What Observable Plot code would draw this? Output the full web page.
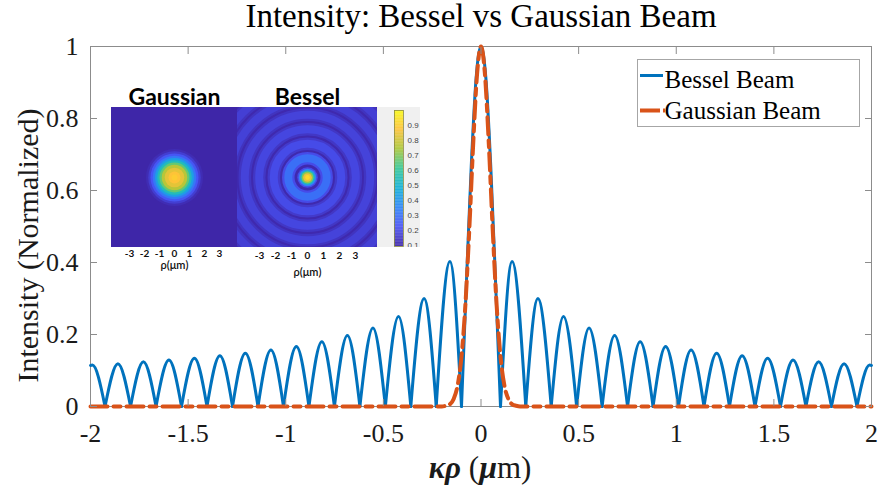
<!DOCTYPE html>
<html><head><meta charset="utf-8">
<script src="https://cdn.jsdelivr.net/npm/d3@7"></script>
<script src="https://cdn.jsdelivr.net/npm/@observablehq/plot@0.6"></script>
<style>
body{margin:0;background:#fff;}
#wrap{position:relative;width:878px;height:491px;overflow:hidden;font-family:"Liberation Serif","Times New Roman",serif;background:#fff;}
#wrap > *{position:absolute;}
</style></head><body><div id="wrap"></div>
<script>
// ---------- main chart data ----------
const xTicks = [-2, -1.5, -1, -0.5, 0, 0.5, 1, 1.5, 2];
const yTicks = [0, 0.2, 0.4, 0.6, 0.8, 1];
// Bessel beam: central lobe
const mainLobeX = [-0.0999, -0.075, -0.05, -0.025, 0, 0.025, 0.05, 0.075, 0.0999];
const mainLobeY = [0, 0.34, 0.667, 0.912, 1, 0.912, 0.667, 0.34, 0];
// Bessel beam side lobes (positive side, mirrored): zeros, peak positions, peak heights
const besselZeros = [0.0999, 0.2293, 0.3595, 0.4898, 0.6203, 0.7507, 0.8812, 1.0116, 1.1421, 1.2726, 1.4034, 1.5339, 1.6643, 1.7948, 1.9256];
const besselPeaks = [0.1592, 0.2915, 0.4225, 0.5534, 0.6843, 0.8151, 0.9456, 1.0760, 1.2069, 1.3374, 1.4678, 1.5983, 1.7291, 1.8596, 1.9900];
const besselPeakVals = [0.403, 0.300, 0.250, 0.218, 0.197, 0.180, 0.167, 0.157, 0.148, 0.141, 0.134, 0.129, 0.124, 0.119, 0.115];
const besselEdgeVal = 0.114; // value at |x| = 2
// Gaussian beam
const gaussX = [-2, -0.2, -0.18, -0.16, -0.14, -0.12, -0.1, -0.08, -0.06, -0.04, -0.02, 0, 0.02, 0.04, 0.06, 0.08, 0.1, 0.12, 0.14, 0.16, 0.18, 0.2, 2];
const gaussY = [0, 0, 0.002, 0.006, 0.021, 0.058, 0.138, 0.282, 0.491, 0.729, 0.924, 1, 0.924, 0.729, 0.491, 0.282, 0.138, 0.058, 0.021, 0.006, 0.002, 0, 0];

// ---------- inset data ----------
const insetTicks = [-3, -2, -1, 0, 1, 2, 3];
const spotCenter = [0, 0];
const colorStops = [0.09, 0.22, 0.35, 0.48, 0.61, 0.74, 0.87, 1.0];
const parula = ["#3e26a8", "#4852f4", "#2e87f7", "#11b1d6", "#37c897", "#abc739", "#fec338", "#f9fb14"];
const colorbarTicks = [0.1, 0.2, 0.3, 0.4, 0.5, 0.6, 0.7, 0.8, 0.9];
const gaussBg = 0.09;
const gaussRingR = [1.9, 1.75, 1.6, 1.45, 1.3, 1.15, 1.0, 0.85, 0.65, 0.4, 0.2];
const gaussRingV = [0.11, 0.16, 0.23, 0.31, 0.42, 0.54, 0.66, 0.76, 0.83, 0.87, 0.89];
const besselBg = 0.1;
const besselRingR = [1.2, 2.11, 3.02, 3.92, 4.83, 5.73];
const besselRingEdgeV = [0.2, 0.15, 0.14, 0.135, 0.13, 0.13];
const besselRingV = [0.29, 0.2, 0.185, 0.175, 0.17, 0.165];
const besselCoreR = [0.64, 0.55, 0.46, 0.37, 0.27, 0.15];
const besselCoreV = [0.2, 0.34, 0.52, 0.7, 0.84, 0.92];

// ---------- build tables ----------
const bessel = mainLobeX.map((x, i) => ({x, y: mainLobeY[i], lobe: "c"}));
for (const s of [-1, 1]) {
  besselPeaks.forEach((p, i) => {
    const last = i + 1 >= besselZeros.length;
    const pts = [
      {x: s * besselZeros[i], y: 0},
      {x: s * p, y: besselPeakVals[i]},
      {x: s * (last ? 2 : besselZeros[i + 1]), y: last ? besselEdgeVal : 0}
    ].sort((a, b) => a.x - b.x);
    pts.forEach(d => bessel.push({...d, lobe: s + ":" + i}));
  });
}
const gauss = gaussX.map((x, i) => ({x, y: gaussY[i]}));
const rings = (R, V) => R.map((r, i) => ({cx: spotCenter[0], cy: spotCenter[1], r, v: V[i]}));

const wrap = document.getElementById("wrap");
const serif = "Liberation Serif";
const gray = "#8c8c8c";
function place(el, left, top) { el.style.left = left + "px"; el.style.top = top + "px"; wrap.appendChild(el); }

const main = Plot.plot({
  width: 878, height: 491,
  marginLeft: 90, marginRight: 7, marginTop: 46, marginBottom: 85,
  x: {domain: [-2, 2]},
  y: {domain: [0, 1]},
  style: {fontFamily: serif, background: "white", color: "#1a1a1a"},
  marks: [
    Plot.frame({stroke: gray}),
    Plot.line(bessel, {x: "x", y: "y", z: "lobe", stroke: "#0072BD", strokeWidth: 3, curve: "monotone-x"}),
    Plot.line(gauss, {x: "x", y: "y", stroke: "#D95319", strokeWidth: 4, strokeDasharray: "17,6,7,6", curve: "monotone-x"}),
    Plot.axisX(xTicks, {anchor: "bottom", tickSize: -7, tickPadding: 24, tickFormat: d => String(d), label: null, stroke: gray, fill: "#1a1a1a", fontSize: 26}),
    Plot.axisX(xTicks, {anchor: "top", tickSize: -7, tickFormat: () => "", label: null, stroke: gray}),
    Plot.axisY(yTicks, {anchor: "left", tickSize: -7, tickPadding: 19, tickFormat: d => String(d), label: null, stroke: gray, fill: "#1a1a1a", fontSize: 26}),
    Plot.axisY(yTicks, {anchor: "right", tickSize: -7, tickFormat: () => "", label: null, stroke: gray}),
    Plot.text(["Intensity: Bessel vs Gaussian Beam"], {frameAnchor: "top", dy: -20, lineAnchor: "bottom", fontSize: 33, fill: "#000"}),
    Plot.text(["Intensity (Normalized)"], {frameAnchor: "left", textAnchor: "middle", rotate: -90, dx: -62, dy: 19, lineAnchor: "middle", fontSize: 30, fill: "#1a1a1a"})
  ]
});
place(main, 0, 0);

// x label with mixed styles
const xl = document.createElement("div");
xl.style.cssText = `width:200px;text-align:center;font-size:31px;line-height:31px;color:#1a1a1a;font-family:${serif};white-space:nowrap;`;
xl.innerHTML = `<span style="font-style:italic;font-weight:bold">κρ</span> (<span style="font-style:italic;font-weight:bold;font-size:32px">μ</span>m)`;
place(xl, 380, 452);

// legend
const leg = document.createElementNS("http://www.w3.org/2000/svg", "svg");
leg.setAttribute("width", 223); leg.setAttribute("height", 68);
leg.innerHTML = `<rect x="0.5" y="0.5" width="222" height="67" fill="white" stroke="#a6a6a6"/>
<line x1="3" x2="26" y1="16.5" y2="16.5" stroke="#0072BD" stroke-width="3"/>
<text x="27.5" y="29" font-size="25" font-family="${serif}" fill="#000">Bessel Beam</text>
<line x1="3" x2="28" y1="51.5" y2="51.5" stroke="#D95319" stroke-width="4" stroke-dasharray="20,3,2,100"/>
<text x="27.5" y="60" font-size="25" font-family="${serif}" fill="#000">Gaussian Beam</text>`;
place(leg, 637, 59);

// ---------- insets ----------
const colorScale = {type: "linear", domain: colorStops, range: parula, interpolate: "rgb"};
const sans = "Lato";

function imagePlot(w, h, half, pxPerUm, marks) {
  return Plot.plot({
    width: w, height: h, margin: 0,
    x: {domain: [-half, half]}, y: {domain: [-half * h / w, half * h / w]},
    r: {type: "linear", domain: [0, 1], range: [0, pxPerUm]},
    color: colorScale,
    style: {background: "transparent", overflow: "hidden"},
    marks
  });
}
function labelPlot(w, half, title, pad, dyLabel) {
  return Plot.plot({
    width: w, height: 202, marginLeft: 0, marginRight: 0, marginTop: 26, marginBottom: 36,
    x: {domain: [-half, half]},
    style: {background: "transparent", fontFamily: sans},
    marks: [
      Plot.axisX(insetTicks, {anchor: "bottom", tickSize: 0, tickPadding: pad, tickFormat: d => String(d), label: null, fontSize: 10, fontWeight: "bold", fill: "#111"}),
      Plot.text(["ρ(μm)"], {frameAnchor: "bottom", dy: dyLabel, lineAnchor: "middle", fontSize: 11, fontWeight: 600, fill: "#111"}),
      Plot.text([title], {frameAnchor: "top", dy: -3, lineAnchor: "bottom", fontSize: 23, fontWeight: "bold", fill: "#000"})
    ]
  });
}

const gImg = imagePlot(126, 140, 4.2, 15, [
  Plot.rect([gaussBg], {fill: d => d}),
  Plot.dot(rings(gaussRingR, gaussRingV), {x: "cx", y: "cy", r: "r", fill: "v"})
]);
place(gImg, 111, 107);
place(labelPlot(126, 4.2, "Gaussian", 2, 18), 111, 81);

const bImg = imagePlot(140, 140, 4.375, 16, [
  Plot.rect([besselBg], {fill: d => d}),
  Plot.dot(rings(besselRingR, besselRingEdgeV), {x: "cx", y: "cy", r: "r", stroke: "v", strokeWidth: 12.5, fill: "none"}),
  Plot.dot(rings(besselRingR, besselRingV), {x: "cx", y: "cy", r: "r", stroke: "v", strokeWidth: 8, fill: "none"}),
  Plot.dot(rings(besselCoreR, besselCoreV), {x: "cx", y: "cy", r: "r", fill: "v"})
]);
place(bImg, 237, 107);
place(labelPlot(140, 4.375, "Bessel", 4, 25), 237, 81);

const cbLevels = d3.range(0.09, 1, 0.005);
const cbar = Plot.plot({
  width: 43, height: 140, marginLeft: 17, marginRight: 17, marginTop: 3, marginBottom: 1,
  y: {domain: [0.09, 1]},
  color: colorScale,
  style: {background: "#f0f0f0", fontFamily: "Liberation Sans"},
  marks: [
    Plot.rect(cbLevels, {y1: d => d, y2: d => Math.min(1, d + 0.006), fill: d => d}),
    Plot.frame({stroke: "#8a8a40", strokeWidth: 0.8}),
    Plot.axisY(colorbarTicks, {anchor: "right", tickSize: 0, tickPadding: 4, tickFormat: d => d.toFixed(1), label: null, fontSize: 8, fill: "#444"})
  ]
});
place(cbar, 377, 107);
</script></body></html>
